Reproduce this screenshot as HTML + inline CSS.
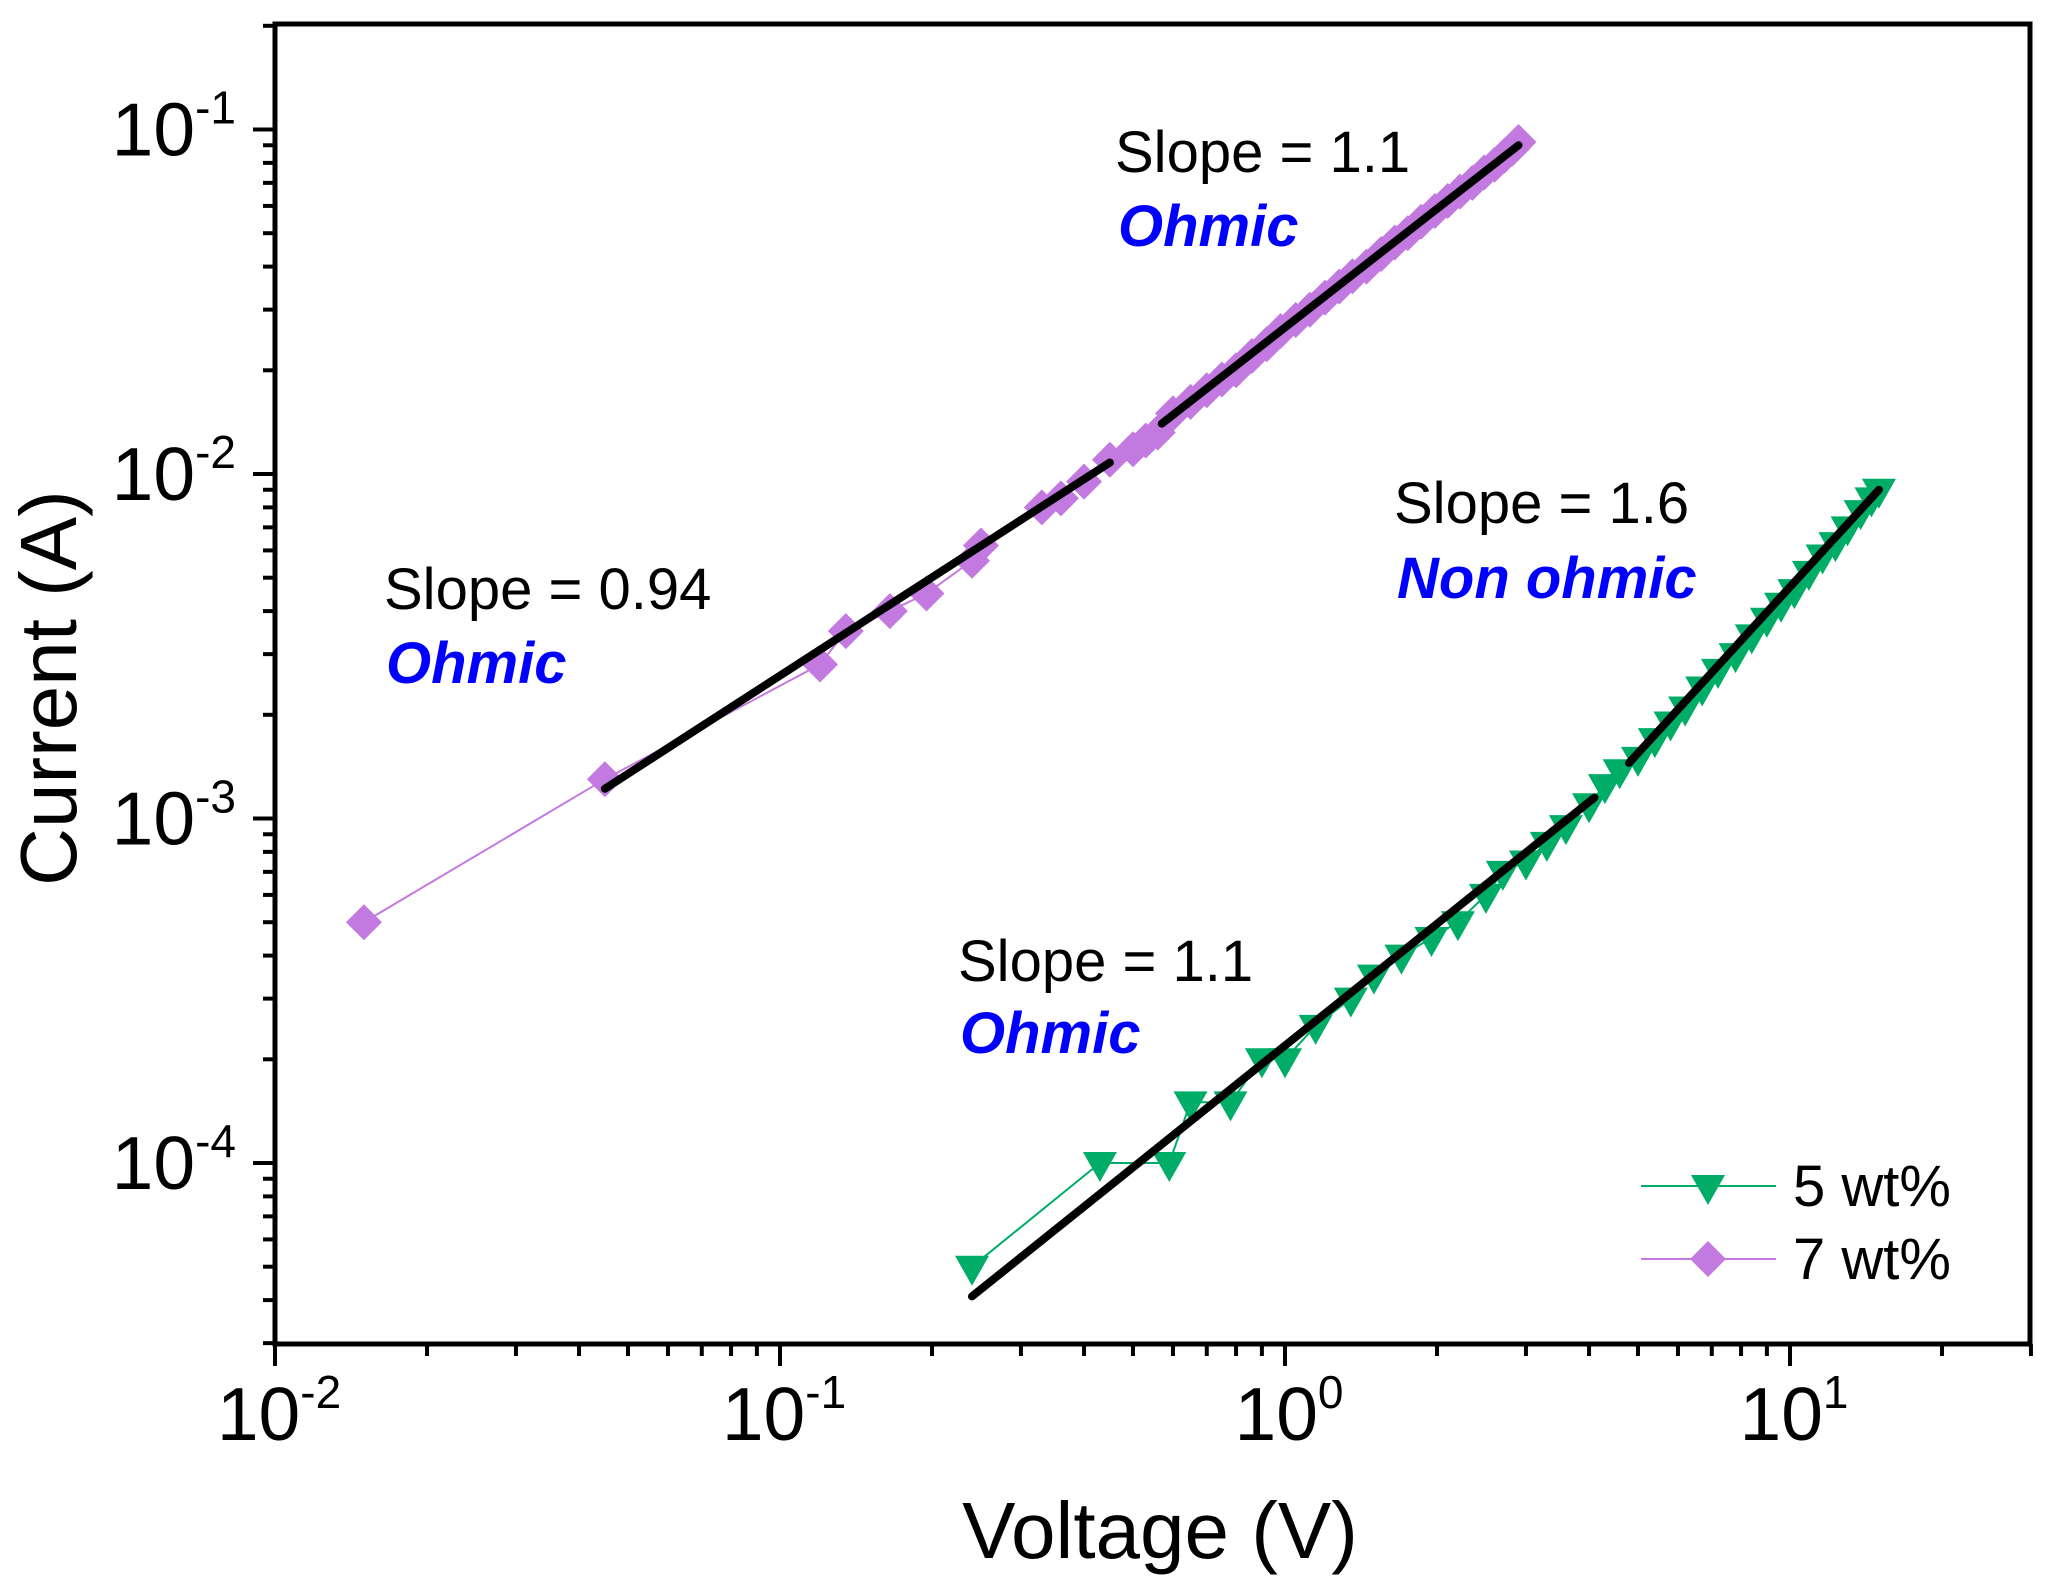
<!DOCTYPE html>
<html><head><meta charset="utf-8"><style>
html,body{margin:0;padding:0;background:#fff;}
svg{display:block;font-family:"Liberation Sans",Arial,sans-serif;}
</style></head><body>
<svg id="chart" width="2061" height="1594" viewBox="0 0 2061 1594" xmlns="http://www.w3.org/2000/svg">
<rect width="2061" height="1594" fill="#fff"/>
<g id="plot"></g>
<g id="axes"></g>
<text x="0" y="0" transform="translate(76,688) rotate(-90)" text-anchor="middle" font-size="80">Current (A)</text>
<text x="1160" y="1558" text-anchor="middle" font-size="80">Voltage (V)</text>
<text x="1115" y="172" font-size="58">Slope = 1.1</text>
<text x="1118" y="246" font-size="58" font-weight="bold" font-style="italic" fill="#0000ff">Ohmic</text>
<text x="384" y="609" font-size="58">Slope = 0.94</text>
<text x="386" y="683" font-size="58" font-weight="bold" font-style="italic" fill="#0000ff">Ohmic</text>
<text x="1394" y="523" font-size="58">Slope = 1.6</text>
<text x="1397" y="598" font-size="58" font-weight="bold" font-style="italic" fill="#0000ff">Non ohmic</text>
<text x="958" y="981" font-size="58">Slope = 1.1</text>
<text x="960" y="1053" font-size="58" font-weight="bold" font-style="italic" fill="#0000ff">Ohmic</text>
<g>
<line x1="1641" y1="1186" x2="1776" y2="1186" stroke="#00ad66" stroke-width="2"/>
<polygon points="1691,1175 1725,1175 1708,1205" fill="#00ad66"/>
<text x="1793" y="1206" font-size="58">5 wt%</text>
<line x1="1641" y1="1259" x2="1776" y2="1259" stroke="#c27ae0" stroke-width="2"/>
<polygon points="1708,1241 1726,1259 1708,1277 1690,1259" fill="#c27ae0"/>
<text x="1793" y="1279" font-size="58">7 wt%</text>
</g>
</svg>
<script>
const xTickExps = [-2, -1, 0, 1];
const yTickExps = [-1, -2, -3, -4];
const v7 = [0.015,0.045,0.12,0.135,0.165,0.195,0.24,0.25,0.33,0.36,0.40,0.45,0.50,0.53,0.56,0.60,0.65,0.70,0.75,0.80,0.86,0.92,0.98,1.05,1.12,1.2,1.28,1.36,1.45,1.55,1.65,1.75,1.86,1.98,2.1,2.22,2.35,2.48,2.6,2.72,2.82,2.9];
const i7 = [5.0e-4,1.3e-3,2.8e-3,3.5e-3,4.0e-3,4.5e-3,5.6e-3,6.2e-3,8.0e-3,8.5e-3,9.5e-3,1.1e-2,1.18e-2,1.25e-2,1.32e-2,1.5e-2,1.62e-2,1.75e-2,1.88e-2,2.0e-2,2.2e-2,2.38e-2,2.6e-2,2.8e-2,3.0e-2,3.25e-2,3.5e-2,3.75e-2,4.0e-2,4.35e-2,4.7e-2,5.0e-2,5.4e-2,5.8e-2,6.2e-2,6.6e-2,7.0e-2,7.5e-2,7.9e-2,8.4e-2,8.8e-2,9.2e-2];
const v5 = [0.24,0.43,0.59,0.65,0.78,0.9,1.0,1.15,1.35,1.5,1.7,1.95,2.2,2.5,2.7,3.0,3.3,3.6,4.0,4.3,4.6,5.0,5.4,5.8,6.2,6.7,7.2,7.8,8.4,9.0,9.6,10.2,10.9,11.6,12.3,13.0,13.8,14.5,15.0];
const i5 = [5.0e-5,1.0e-4,1.0e-4,1.5e-4,1.5e-4,2.0e-4,2.0e-4,2.5e-4,3.0e-4,3.5e-4,4.0e-4,4.5e-4,5.0e-4,6.0e-4,7.0e-4,7.5e-4,8.5e-4,9.5e-4,1.1e-3,1.25e-3,1.38e-3,1.5e-3,1.7e-3,1.9e-3,2.1e-3,2.4e-3,2.7e-3,3.0e-3,3.4e-3,3.8e-3,4.2e-3,4.6e-3,5.2e-3,5.8e-3,6.3e-3,7.0e-3,7.8e-3,8.5e-3,9.0e-3];
const fitV = [[0.045,0.45],[0.57,2.9],[0.24,4.1],[4.8,15]];
const fitI = [[1.22e-3,1.08e-2],[1.4e-2,9.0e-2],[4.1e-5,1.15e-3],[1.45e-3,9.0e-3]];

const NS = "http://www.w3.org/2000/svg";
const X0 = 275, XDEC = 505, XMIN = -2, XR = 2030;
const Y0 = 474, YDEC = 344.5, YB = 1344, YT = 24;
function sx(v){ return X0 + (Math.log10(v) - XMIN) * XDEC; }
function sy(v){ return Y0 - (Math.log10(v) + 2) * YDEC; }
function mk(tag, attrs, parent){ const e = document.createElementNS(NS, tag); for (const k in attrs) e.setAttribute(k, attrs[k]); parent.appendChild(e); return e; }
const plot = document.getElementById('plot');
const axes = document.getElementById('axes');

let pts7 = v7.map((v,i)=>sx(v).toFixed(1)+','+sy(i7[i]).toFixed(1)).join(' ');
const l7 = mk('polyline', {points: pts7, fill:'none', stroke:'#c27ae0', 'stroke-width':2}, plot);


v7.forEach((v,i)=>{
  const x = sx(v), y = sy(i7[i]);
  const p = mk('polygon', {points: `${x},${y-18} ${x+18},${y} ${x},${y+18} ${x-18},${y}`, fill:'#c27ae0'}, plot);
  
  
});
let pts5 = v5.map((v,i)=>sx(v).toFixed(1)+','+sy(i5[i]).toFixed(1)).join(' ');
const l5 = mk('polyline', {points: pts5, fill:'none', stroke:'#00ad66', 'stroke-width':2}, plot);


v5.forEach((v,i)=>{
  const x = sx(v), y = sy(i5[i]);
  const p = mk('polygon', {points: `${x-17},${y-11} ${x+17},${y-11} ${x},${y+19}`, fill:'#00ad66'}, plot);
  
  
});
fitV.forEach((f,i)=>{
  const ln = mk('line', {x1:sx(f[0]), y1:sy(fitI[i][0]), x2:sx(f[1]), y2:sy(fitI[i][1]), stroke:'#000', 'stroke-width':8, 'stroke-linecap':'round'}, plot);
  
  
});

const fr = mk('rect', {x:X0, y:YT, width:XR-X0, height:YB-YT, fill:'none', stroke:'#000', 'stroke-width':5}, axes);


for (let e = -2; e <= 1; e++) {
  for (let m = 1; m <= 9; m++) {
    const v = m * Math.pow(10, e);
    const x = sx(v);
    if (x > XR + 1) continue;
    const t = mk('line', {x1:x, y1:YB, x2:x, y2:YB + (m===1?22:12), stroke:'#000', 'stroke-width':4}, axes);
    
    
  }
}
xTickExps.forEach(e=>{
  const x = sx(Math.pow(10,e));
  const t = mk('text', {x:x+4, y:1440, 'text-anchor':'middle', 'font-size':75}, axes);
  
  
  t.innerHTML = `10<tspan dy="-32" font-size="46">${e}</tspan>`;
});
for (let e = -5; e <= -1; e++) {
  for (let m = 1; m <= 9; m++) {
    const v = m * Math.pow(10, e);
    const y = sy(v);
    if (y > YB + 1 || y < YT - 1) continue;
    const t = mk('line', {x1:X0, y1:y, x2:X0 - (m===1?22:12), y2:y, stroke:'#000', 'stroke-width':4}, axes);
    
    
  }
}
yTickExps.forEach(e=>{
  const y = sy(Math.pow(10,e));
  const t = mk('text', {x:236, y:y+26, 'text-anchor':'end', 'font-size':75}, axes);
  
  
  t.innerHTML = `10<tspan dy="-32" font-size="46">${e}</tspan>`;
});
</script>
</body></html>
